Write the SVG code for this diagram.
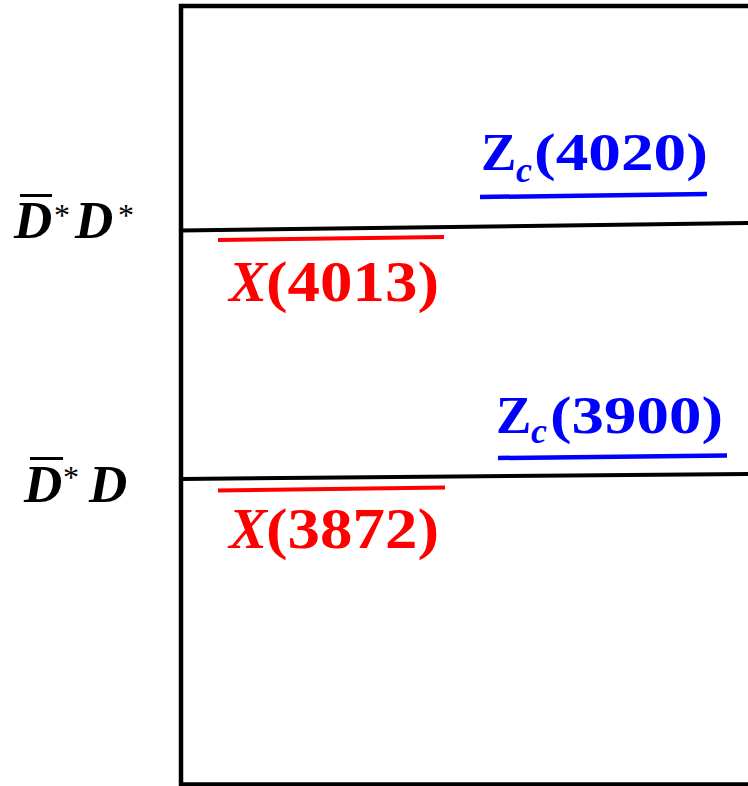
<svg xmlns="http://www.w3.org/2000/svg" width="748" height="786" viewBox="0 0 748 786">
<style>
.lbl{font-family:"Liberation Serif","Times New Roman",serif;font-weight:bold}
.it{font-style:italic}
.ast{font-family:"Liberation Serif","Times New Roman",serif;font-weight:normal;font-style:normal;font-size:32px}
.red{fill:#ff0000}
.blue{fill:#0000ff}
.blk{fill:#000}
.lvl{stroke:#000;stroke-width:4;fill:none}
.rl{stroke:#ff0000;stroke-width:4;fill:none}
.bl{stroke:#0000ff;stroke-width:4.5;fill:none}
</style>
<rect x="0" y="0" width="748" height="786" fill="#fff"/>
<g id="frame">
<rect x="181" y="6" width="600" height="778.5" fill="none" stroke="#000" stroke-width="4.5"/>
</g>
<g id="connectors">
<line class="lvl" x1="181" y1="230.5" x2="748" y2="223"/>
<line class="lvl" x1="181" y1="479" x2="748" y2="474"/>
<line class="rl" x1="218" y1="240" x2="444" y2="237"/>
<line class="rl" x1="218" y1="490.5" x2="445" y2="487.5"/>
<line class="bl" x1="480" y1="197" x2="707" y2="194"/>
<line class="bl" x1="498" y1="458" x2="727" y2="455.5"/>
</g>
<g id="label-DstarDstar">
<rect x="20" y="194" width="32" height="3" fill="#000"/>
<text class="lbl it blk" x="14" y="238" font-size="53">D</text>
<text class="ast blk" x="54" y="226">*</text>
<text class="lbl it blk" x="75" y="238" font-size="53">D</text>
<text class="ast blk" x="118" y="226">*</text>
</g>
<g id="label-DstarD">
<rect x="30" y="457" width="33" height="3" fill="#000"/>
<text class="lbl it blk" x="24" y="502" font-size="53">D</text>
<text class="ast blk" x="63" y="488">*</text>
<text class="lbl it blk" x="89" y="502" font-size="53">D</text>
</g>
<g id="X4013">
<text class="lbl it red" x="229" y="301" font-size="57">X</text>
<text class="lbl red" x="266" y="301" font-size="57" textLength="173" lengthAdjust="spacingAndGlyphs">(4013)</text>
</g>
<g id="X3872">
<text class="lbl it red" x="229" y="548" font-size="57">X</text>
<text class="lbl red" x="266" y="548" font-size="57" textLength="173" lengthAdjust="spacingAndGlyphs">(3872)</text>
</g>
<g id="Zc4020">
<text class="lbl blue" x="481" y="170" font-size="53">Z</text>
<text class="lbl it blue" x="516" y="182" font-size="36">c</text>
<text class="lbl blue" x="534" y="170" font-size="53" textLength="174" lengthAdjust="spacingAndGlyphs">(4020)</text>
</g>
<g id="Zc3900">
<text class="lbl blue" x="496" y="433" font-size="53">Z</text>
<text class="lbl it blue" x="531" y="443" font-size="36">c</text>
<text class="lbl blue" x="550" y="433" font-size="53" textLength="173" lengthAdjust="spacingAndGlyphs">(3900)</text>
</g>
</svg>
